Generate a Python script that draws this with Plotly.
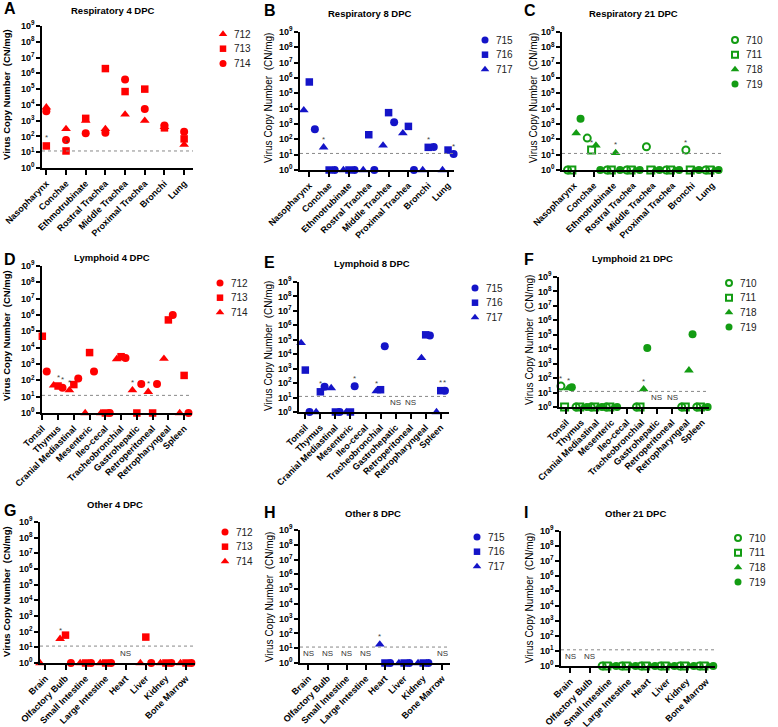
import math
import plotly.graph_objects as go

W, H = 778, 727

# ---------------- categories ----------------
resp_cats = ["Nasopharynx", "Conchae", "Ethmotrubinate", "Rostral Trachea",
             "Middle Trachea", "Proximal Trachea", "Bronchi", "Lung"]
lymph_cats = ["Tonsil", "Thymus", "Cranial Mediastinal", "Mesenteric", "Ileo-cecal",
              "Tracheobronchial", "Gastrohepatic", "Retroperitoneal", "Retropharyngeal", "Spleen"]
other_cats = ["Brain", "Olfactory Bulb", "Small Intestine", "Large Intestine",
              "Heart", "Liver", "Kidney", "Bone Marrow"]
ytick_vals = [10 ** k for k in range(10)]
ytick_text = ["10<sup>%d</sup>" % k for k in range(10)]
LOD = 12

# ---------------- values (CN/mg); None = not sampled ----------------
# A  Respiratory 4 DPC
a_712 = [7000, 300, 1000, 300, 2500, 1000, 400, 30]
a_713 = [25, 12, 1400, 2e6, 7e4, 1e5, 350, 70]
a_714 = [4000, 60, 160, 170, 4e5, 5500, 500, 200]
# B  Respiratory 8 DPC
b_715 = [450, 1, 1, 1, 1300, 1, 32, 11]
b_716 = [5.5e5, 1, 1, 200, 5500, 700, 30, 20]
b_717 = [8000, 30, 1, 1, 40, 250, 1, 1]
# C  Respiratory 21 DPC
c_710 = [1, 120, 1, 1, 33, 1, 20, 1]
c_711 = [1, 20, 1, 1, 1, 1, 1, 1]
c_718 = [250, 40, 13, 1, 1, 1, 1, 1]
c_719 = [2200, 1, 1, 1, 1, 1, 1, 1]
# D  Lymphoid 4 DPC
d_712 = [350, 35, 130, 350, 1, 2300, 60, 60, 1e6, 1]
d_713 = [5e4, 45, 55, 5000, 1, 2800, 1, 1, 5e5, 200]
d_714 = [1000, 50, 25, 1, 1, 2000, 25, 20, 2100, 1]
# E  Lymphoid 8 DPC
e_715 = [1, 55, 1, 60, None, 3.5e4, None, None, 2e5, 30]
e_716 = [800, 25, 1, 1, None, 35, None, None, 2.2e5, 30]
e_717 = [6e4, 1, 45, 1, None, 28, None, None, 5500, 1]
# F  Lymphoid 21 DPC
f_710 = [28, 1, 1, 1, None, 1, None, None, 1, 1]
f_711 = [1, 1, 1, 1, None, 1, None, None, 1, 1]
f_718 = [20, 1, 1, 1, None, 17, None, None, 350, 1]
f_719 = [23, 1, 1, 1, None, 1.2e4, None, None, 1.1e5, 1]
# G  Other 4 DPC
g_712 = [None, 1, 1, 1, None, 1, 1, 1]
g_713 = [None, 60, 1, 1, None, 45, 1, 1]
g_714 = [1, 35, 1, 1, None, 1, 1, 1]
# H  Other 8 DPC
h_715 = [None, None, None, None, 1, 1, 1, None]
h_716 = [None, None, None, None, 1, 1, 1, None]
h_717 = [None, None, None, None, 18, 1, 1, None]
# I  Other 21 DPC
i_710 = [None, None, 1, 1, 1, 1, 1, 1]
i_711 = [None, None, 1, 1, 1, 1, 1, 1]
i_718 = [None, None, 1, 1, 1, 1, 1, 1]
i_719 = [None, None, 1, 1, 1, 1, 1, 1]

# significance marks (animal, category index) and NS categories
stars = {
    "A": [("713", 0), ("713", 1)],
    "B": [("717", 1), ("716", 6), ("715", 7)],
    "C": [("711", 1), ("718", 2), ("710", 6)],
    "D": [("713", 1), ("712", 1), ("714", 2), ("714", 6), ("714", 7)],
    "E": [("716", 1), ("715", 3), ("717", 5), ("716", 9), ("715", 9)],
    "F": [("710", 0), ("718", 0), ("718", 5)],
    "G": [("714", 1)],
    "H": [("717", 4)],
    "I": [],
}
ns_cats = {"E": [6, 7], "F": [6, 7], "G": [4], "H": [0, 1, 2, 3, 7], "I": [0, 1]}

RED = "#FF0000"
BLUE = "#1414C8"
GREEN = "#139C13"

# series: (name, values, symbol, color, x-offset)
panels = [
    dict(key="A", title="Respiratory 4 DPC", cats=resp_cats, bold=True,
         series=[("712", a_712, "triangle-up", RED, 0.0), ("713", a_713, "square", RED, 0.0),
                 ("714", a_714, "circle", RED, 0.0)],
         l=42, r=193, t=26, b=168, xr=(-0.22, 7.45), tpos=(113, 10), lpos=(2, 9),
         ytp=(7, 95), leg=(223, 34)),
    dict(key="B", title="Respiratory 8 DPC", cats=resp_cats, bold=False,
         series=[("715", b_715, "circle", BLUE, 0.28), ("716", b_716, "square", BLUE, 0.0),
                 ("717", b_717, "triangle-up", BLUE, -0.28)],
         l=300, r=454, t=32, b=170, xr=(-0.47, 7.3), tpos=(370, 14), lpos=(262, 10),
         ytp=(268, 98), leg=(485, 40)),
    dict(key="C", title="Respiratory 21 DPC", cats=resp_cats, bold=False,
         series=[("710", c_710, "circle-open", GREEN, -0.33), ("711", c_711, "square-open", GREEN, -0.11),
                 ("718", c_718, "triangle-up", GREEN, 0.11), ("719", c_719, "circle", GREEN, 0.33)],
         l=562, r=721, t=32, b=170, xr=(-0.61, 7.45), tpos=(633, 14), lpos=(522, 10),
         ytp=(533, 98), leg=(735, 40)),
    dict(key="D", title="Lymphoid 4 DPC", cats=lymph_cats, bold=True,
         series=[("712", d_712, "circle", RED, 0.28), ("713", d_713, "square", RED, 0.0),
                 ("714", d_714, "triangle-up", RED, -0.28)],
         l=42, r=192, t=266, b=413, xr=(-0.02, 9.5), tpos=(112, 257), lpos=(2, 260),
         ytp=(6, 336), leg=(220, 283)),
    dict(key="E", title="Lymphoid 8 DPC", cats=lymph_cats, bold=False,
         series=[("715", e_715, "circle", BLUE, 0.28), ("716", e_716, "square", BLUE, 0.0),
                 ("717", e_717, "triangle-up", BLUE, -0.28)],
         l=299, r=449, t=282, b=412, xr=(-0.42, 9.55), tpos=(372, 263), lpos=(262, 262),
         ytp=(268, 346), leg=(475, 288)),
    dict(key="F", title="Lymphoid 21 DPC", cats=lymph_cats, bold=False,
         series=[("710", f_710, "circle-open", GREEN, -0.36), ("711", f_711, "square-open", GREEN, -0.12),
                 ("718", f_718, "triangle-up", GREEN, 0.12), ("719", f_719, "circle", GREEN, 0.36)],
         l=559, r=709, t=277, b=407, xr=(-0.49, 9.45), tpos=(632, 258), lpos=(522, 260),
         ytp=(529, 340), leg=(729, 283)),
    dict(key="G", title="Other 4 DPC", cats=other_cats, bold=True,
         series=[("712", g_712, "circle", RED, 0.27), ("713", g_713, "square", RED, 0.0),
                 ("714", g_714, "triangle-up", RED, -0.27)],
         l=40, r=195, t=522, b=663, xr=(-0.27, 7.45), tpos=(115, 505), lpos=(2, 510),
         ytp=(6, 592), leg=(225, 532)),
    dict(key="H", title="Other 8 DPC", cats=other_cats, bold=False,
         series=[("715", h_715, "circle", BLUE, 0.27), ("716", h_716, "square", BLUE, 0.0),
                 ("717", h_717, "triangle-up", BLUE, -0.27)],
         l=300, r=450, t=530, b=663, xr=(-0.44, 7.4), tpos=(373, 513), lpos=(262, 512),
         ytp=(269, 597), leg=(477, 537)),
    dict(key="I", title="Other 21 DPC", cats=other_cats, bold=False,
         series=[("710", i_710, "circle-open", GREEN, -0.36), ("711", i_711, "square-open", GREEN, -0.12),
                 ("718", i_718, "triangle-up", GREEN, 0.12), ("719", i_719, "circle", GREEN, 0.36)],
         l=561, r=715, t=531, b=666, xr=(-0.48, 7.45), tpos=(635, 513), lpos=(522, 512),
         ytp=(529, 598), leg=(738, 538)),
]

FONT = "Liberation Sans, Arial, sans-serif"
LEG_DY = 14.7


def marker_style(sym, col, legend=False):
    is_open = sym.endswith("open")
    if is_open:
        size = 7
    elif sym == "circle":
        size = 8
    elif sym == "square":
        size = 7.5
    else:
        size = 8.5
    if legend:
        size -= 1
    return dict(symbol=sym, size=size, color=col, line=dict(width=2 if is_open else 0, color=col))


fig = go.Figure()
annotations = []
shapes = []
layout = dict(template="none", width=W, height=H, margin=dict(l=0, r=0, t=0, b=0, pad=0),
              paper_bgcolor="white", plot_bgcolor="rgba(0,0,0,0)", showlegend=False,
              font=dict(family=FONT, color="black"))

NP = len(panels)
AUX = str(NP + 1)  # pixel-coordinate helper axes for the per-panel keys
layout["xaxis" + AUX] = dict(domain=[0, 1], range=[0, W], visible=False, anchor="y" + AUX,
                             automargin=False)
layout["yaxis" + AUX] = dict(domain=[0, 1], range=[H, 0], visible=False, anchor="x" + AUX,
                             automargin=False)

for i, p in enumerate(panels):
    sfx = "" if i == 0 else str(i + 1)
    xa, ya = "x" + sfx, "y" + sfx
    n = len(p["cats"])
    for name, vals, sym, col, off in p["series"]:
        xs = [j + off for j, v in enumerate(vals) if v is not None]
        ys = [v for v in vals if v is not None]
        fig.add_trace(go.Scatter(
            x=xs, y=ys, mode="markers", name=name, xaxis=xa, yaxis=ya,
            cliponaxis=False, showlegend=False, hoverinfo="x+y+name",
            marker=marker_style(sym, col)))
    # axes
    layout["xaxis" + sfx] = dict(
        domain=[p["l"] / W, p["r"] / W], anchor=ya, range=list(p["xr"]), automargin=False,
        tickmode="array", tickvals=list(range(n)), ticktext=p["cats"],
        tickangle=-45, ticks="outside", ticklen=5, tickwidth=1.5, tickcolor="black",
        showline=True, linewidth=1.5, linecolor="black", showgrid=False, zeroline=False,
        tickfont=dict(family=FONT, size=9, color="black", weight="bold"))
    layout["yaxis" + sfx] = dict(
        domain=[1 - p["b"] / H, 1 - p["t"] / H], anchor=xa, type="log", range=[0, 9],
        automargin=False, tickmode="array", tickvals=ytick_vals, ticktext=ytick_text,
        ticks="outside", ticklen=4, tickwidth=1.5, tickcolor="black",
        showline=True, linewidth=1.5, linecolor="black", showgrid=False, zeroline=False,
        tickfont=dict(family=FONT, size=9, color="black", weight="bold"))
    # limit of detection
    shapes.append(dict(type="line", xref=xa + " domain", x0=0, x1=1, yref=ya, y0=LOD, y1=LOD,
                       line=dict(color="#888888", width=1, dash="dot")))
    # key (legend) drawn on the pixel helper axes
    mx, my = p["leg"]
    for k, (name, vals, sym, col, off) in enumerate(p["series"]):
        fig.add_trace(go.Scatter(
            x=[mx], y=[my + k * LEG_DY], mode="markers", xaxis="x" + AUX, yaxis="y" + AUX,
            cliponaxis=False, showlegend=False, hoverinfo="skip",
            marker=marker_style(sym, col, legend=True)))
        annotations.append(dict(text=name, x=mx + 9, y=my + k * LEG_DY, xref="x" + AUX,
                                yref="y" + AUX, showarrow=False, xanchor="left", yanchor="middle",
                                font=dict(family=FONT, size=10, color="#222")))
    # title, panel letter, y title
    tx, ty = p["tpos"]
    annotations.append(dict(text="<b>%s</b>" % p["title"], x=tx / W, y=1 - ty / H, xref="paper",
                            yref="paper", showarrow=False, xanchor="center", yanchor="middle",
                            font=dict(family=FONT, size=9.5, color="black")))
    lx, ly = p["lpos"]
    annotations.append(dict(text="<b>%s</b>" % p["key"], x=lx / W, y=1 - ly / H, xref="paper",
                            yref="paper", showarrow=False, xanchor="left", yanchor="middle",
                            font=dict(family=FONT, size=16, color="black")))
    yx, yy = p["ytp"]
    ytxt = "Virus Copy Number\u00a0 (CN/mg)"
    annotations.append(dict(text=("<b>%s</b>" % ytxt) if p["bold"] else ytxt,
                            x=yx / W, y=1 - yy / H, xref="paper", yref="paper", showarrow=False,
                            textangle=-90, xanchor="center", yanchor="middle",
                            font=dict(family=FONT, size=9.5 if p["bold"] else 10, color="black")))
    # asterisks
    lookup = {s[0]: (s[1], s[4]) for s in p["series"]}
    for animal, ci in stars[p["key"]]:
        vals, off = lookup[animal]
        annotations.append(dict(text="*", x=ci + off, y=math.log10(vals[ci]), xref=xa, yref=ya,
                                showarrow=False, yshift=8, font=dict(size=8, color="#444")))
    for ci in ns_cats.get(p["key"], []):
        annotations.append(dict(text="NS", x=ci, y=0, xref=xa, yref=ya + " domain",
                                showarrow=False, yanchor="bottom", yshift=3,
                                font=dict(size=8, color="#333")))

layout["annotations"] = annotations
layout["shapes"] = shapes
fig.update_layout(**layout)
fig.write_html("out.html", config={"displayModeBar": False},
               post_script="document.body.style.margin='0px';document.body.style.overflow='hidden';")
